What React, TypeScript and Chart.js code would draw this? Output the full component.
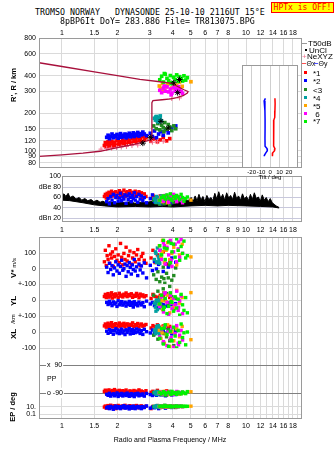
import React, { useEffect, useRef } from 'react';
import { Chart, registerables } from 'chart.js';

Chart.register(...registerables);

const SANS = "'Liberation Sans', Arial, sans-serif";
const MONO = "'DejaVu Sans Mono', 'Liberation Mono', monospace";

// ---------------- text ----------------
const TITLE_1 = 'TROMSO NORWAY   DYNASONDE 25-10-10 2116UT 15°E';
const TITLE_2 = '8pBP6It DoY= 283.886 File= TR813075.BPG';
const HPTX = 'HPTx is OFF!';
const X_TITLE = 'Radio and Plasma Frequency / MHz';

// ---------------- axes ----------------
const FREQ_MIN = 0.75;
const FREQ_MAX = 20.15;
const FREQ_TICKS_TOP = [1, 1.5, 2, 3, 4, 5, 6, 7, 8, 10, 12, 14, 16, 18];
const FREQ_TICKS_MID = [1, 1.5, 2, 3, 4, 5, 6, 7, 8, 9, 10, 12, 14, 16, 18];
const FREQ_GRID_LOW = [1, 1.5, 2, 3, 4, 5, 6, 7, 8, 9, 10, 11, 12, 13, 14, 15, 16, 17, 18, 19];
const FREQ_LABELS_LOW = [1, 1.5, 2, 3, 4, 5, 6, 7, 8, 10, 12, 14, 16, 18];
const HEIGHT_MIN = 72.7;
const HEIGHT_MAX = 800;
const HEIGHT_TICKS = [80, 90, 100, 120, 150, 200, 300, 400, 600, 800];
const DB_MIN = 13.3;
const DB_MAX = 101;
const DB_TICKS = [20, 40, 60, 80, 100];
const DB_LABELS = ['dBn 20', '40', '60', 'dBe 80', '100'];
const TILT_MIN = -30.4;
const TILT_MAX = 29.8;
const TILT_TICKS = [-20, -10, 0, 10, 20];
const INSET_H_MIN = 79.4;
const INSET_H_MAX = 495;
const V_TICKS = [-100, 0, 100];
const V_LABELS = ['+-100', '0', '100'];
const YL_LABELS = ['+-100', '0', ''];
const XL_LABELS = ['-100', '0', ''];
const PP_TICKS = [-90, 0, 90];
const PP_LABELS = ['o -90', 'PP', 'x  90'];
const EP_TICKS = [0.1, 10];
const EP_LABELS = ['0.1', '10.'];

// ---------------- profile & markers ----------------
const PROFILE_FREQ = [0.75, 1.0, 1.3, 1.61, 2.0, 2.5, 3.0, 3.08, 3.08, 3.12, 3.5, 3.9, 4.2, 4.55, 4.8, 4.84, 4.6, 4.2, 3.96, 3.41, 2.65, 2.0, 1.5, 1.0, 0.75];
const PROFILE_RANGE = [90, 92.5, 95.5, 99, 106, 113, 121.6, 123, 243, 252, 256, 260, 266, 276, 290, 298, 308, 330, 347, 357, 373, 400, 429, 473, 507];
const NEXYZ_FREQ = [1.63, 1.75, 1.86, 1.98, 2.1, 2.24, 2.4, 2.58, 3.1, 3.3, 3.55, 3.95, 4.35];
const NEXYZ_RANGE = [103, 104, 105, 106, 107, 108, 110, 111, 117, 118, 119, 262, 265];
const MARK_FREQ = [2.75, 3.02, 3.45, 3.78, 4.05, 4.35, 4.25];
const MARK_RANGE = [115, 128, 172, 152, 350, 372, 292];

// ---------------- tilt inset ----------------
const TILT_X_RANGE = [274, 250, 220, 195, 186, 160, 135, 117, 112, 108, 104, 100, 98];
const TILT_X = [5.0, 5.2, 5.0, 4.8, 3.8, 3.7, 3.6, 3.5, 5.0, 4.6, 2.6, 2.2, 2.4];
const TILT_Y_RANGE = [274, 262, 250, 220, 190, 160, 135, 117, 112, 108, 104, 100, 98];
const TILT_Y = [-5.2, -6.6, -5.8, -5.7, -5.6, -5.6, -5.7, -5.6, -3.5, -3.2, -4.8, -6.2, -6.4];

// ---------------- noise (dB panel) ----------------
const NOISE_FREQ = [1.0, 1.025, 1.05, 1.08, 1.105, 1.15, 1.19, 1.24, 1.28, 1.33, 1.38, 1.44, 1.49, 1.55, 1.61, 1.67, 1.73, 1.82, 1.94, 2.07, 2.2, 2.34, 2.49, 2.65, 2.83, 3.01, 3.2, 3.41, 3.63, 3.86, 4.11, 4.38, 4.66, 4.84, 5.03, 5.16, 5.29, 5.42, 5.55, 5.69, 5.83, 5.98, 6.13, 6.28, 6.44, 6.6, 6.77, 6.94, 7.11, 7.29, 7.47, 7.66, 7.85, 8.05, 8.25, 8.46, 8.67, 8.89, 9.11, 9.34, 9.57, 9.81, 10.06, 10.31, 10.57, 10.83, 11.1, 11.38, 11.67, 11.96, 12.26, 12.57, 12.88, 13.21, 13.54, 13.88, 14.23, 14.58, 15.13];
const NOISE_HIGH = [64, 67, 62, 68, 60, 63, 57, 60, 55, 58, 54, 56, 52, 55, 51, 53, 50, 52, 49, 51, 50, 52, 49, 51, 50, 52, 54, 51, 55, 52, 56, 53, 57, 54, 60, 52, 63, 54, 66, 55, 62, 52, 64, 56, 60, 54, 68, 57, 71, 58, 66, 55, 69, 59, 64, 56, 70, 58, 63, 55, 67, 57, 62, 54, 66, 56, 69, 58, 61, 53, 65, 55, 60, 52, 58, 50, 47, 44, 41];
const NOISE_LOW_FREQ = [1.0, 1.1, 1.3, 1.5, 1.7, 2.0, 2.5, 3.0, 3.5, 4.0, 5.0, 6.0, 7.0, 8.0, 10.0, 12.0, 14.0, 15.13];
const NOISE_LOW = [55, 54, 50, 46, 44, 42, 43, 42, 43, 42, 44, 45, 44, 45, 44, 43, 42, 40];

// ---------------- echo classes ----------------
const C1 = '#ff0000';
const C2 = '#0000ff';
const C3 = '#228b22';
const C4 = '#00a0a0';
const C5 = '#ffa500';
const C6 = '#ff00ff';
const C7 = '#00f000';

const S1_FREQ = [1.7, 1.72, 1.74, 1.76, 1.78, 1.8, 1.82, 1.84, 1.86, 1.88, 1.9, 1.93, 1.96, 1.99, 2.02, 2.05, 2.08, 2.11, 2.14, 2.17, 2.2, 2.23, 2.26, 2.3, 2.34, 2.38, 2.42, 2.46, 2.5, 2.54, 2.58, 2.62, 2.66, 2.7, 2.75, 2.8, 2.86, 3.05, 3.12, 3.2, 3.3, 3.42, 3.55, 3.7, 3.85];
const S1_RANGE = [110, 116, 107, 113, 118, 109, 115, 111, 119, 108, 114, 117, 110, 121, 113, 118, 111, 116, 122, 114, 119, 112, 124, 117, 121, 115, 126, 119, 123, 116, 128, 121, 125, 118, 130, 122, 127, 119, 124, 126, 118, 122, 128, 120, 125];
const S1_AMP = [62, 66, 59, 68, 64, 70, 61, 67, 72, 63, 69, 65, 71, 60, 68, 73, 64, 70, 66, 74, 62, 69, 71, 65, 73, 67, 70, 63, 72, 68, 66, 71, 64, 69, 60, 67, 62, 58, 64, 61, 57, 63, 59, 62, 56];
const S1_VSTAR = [45, 120, 20, 85, 60, 150, 35, 95, 70, 110, 15, 80, 130, 55, 90, 40, 165, 75, 25, 100, 60, 140, 50, 85, 115, 30, 70, 105, 45, 90, 125, 60, 20, 80, 100, 55, 35, 70, 120, 40, 90, 65, 110, 30, 50];
const S1_YL = [22, 35, 15, 28, 40, 18, 30, 25, 45, 12, 33, 20, 38, 27, 16, 42, 24, 31, 19, 36, 28, 44, 21, 34, 26, 39, 17, 30, 23, 41, 29, 14, 37, 25, 32, 20, 27, 10, 35, 22, 18, 30, 25, 40, 15];
const S1_XL = [38, 50, 30, 44, 55, 35, 47, 41, 58, 32, 46, 39, 52, 28, 43, 56, 36, 49, 40, 54, 33, 45, 51, 37, 48, 42, 57, 34, 46, 39, 53, 31, 44, 50, 36, 42, 47, 25, 40, 33, 45, 30, 38, 28, 35];
const S1_PP = [-80, -72, -88, -76, -84, -70, -92, -78, -86, -74, -82, -68, -90, -77, -85, -73, -81, -95, -75, -87, -79, -71, -89, -83, -76, -93, -80, -74, -86, -78, -84, -70, -91, -77, -82, -88, -75, -85, -79, -90, -73, -87, -81, -76, -84];
const S1_EP = [8, 15, 4, 12, 20, 6, 10, 25, 5, 14, 9, 18, 3, 11, 22, 7, 13, 5, 16, 9, 24, 6, 12, 8, 19, 4, 11, 15, 7, 21, 10, 5, 13, 17, 6, 9, 14, 3, 12, 8, 20, 6, 10, 15, 7];

const S2_FREQ = [1.75, 1.78, 1.81, 1.84, 1.87, 1.9, 1.93, 1.96, 1.99, 2.02, 2.05, 2.08, 2.11, 2.14, 2.17, 2.2, 2.23, 2.26, 2.29, 2.32, 2.35, 2.38, 2.41, 2.44, 2.47, 2.5, 2.54, 2.58, 2.62, 2.66, 2.7, 2.75, 2.8, 2.88, 3.02, 3.1, 3.18, 3.26, 3.35, 3.45, 3.55, 3.65, 3.78, 3.95, 4.15];
const S2_RANGE = [128, 133, 125, 130, 136, 127, 132, 129, 135, 126, 131, 137, 128, 133, 130, 136, 127, 134, 131, 138, 129, 135, 132, 139, 130, 136, 133, 140, 131, 137, 134, 141, 136, 132, 138, 130, 144, 127, 136, 142, 133, 147, 139, 152, 158];
const S2_AMP = [52, 58, 48, 62, 55, 66, 50, 60, 64, 53, 59, 68, 54, 61, 57, 65, 49, 63, 56, 67, 60, 52, 64, 58, 69, 55, 62, 51, 66, 57, 63, 54, 60, 50, 58, 65, 52, 61, 56, 48, 59, 53, 62, 50, 55];
const S2_VSTAR = [10, -25, 35, -5, 20, -40, 5, 45, -15, 25, -30, 15, 55, -10, 0, 30, -50, 20, -20, 40, 8, -35, 25, -5, 60, -15, 12, -45, 30, -8, 18, -28, 38, -60, 22, -12, 48, -2, 28, 65, -18, 35, 10, 70, 42];
const S2_YL = [-15, -28, -8, -22, -35, -12, -25, -18, -40, -5, -30, -20, -10, -32, -24, -14, -38, -19, -27, -9, -33, -16, -26, -44, -11, -29, -21, -36, -13, -23, -31, -17, -42, -7, -25, -15, -35, -20, -48, -10, -28, -38, -18, -30, -22];
const S2_XL = [5, -8, 15, -2, 10, -14, 8, 20, -5, 12, -10, 3, 18, -6, 7, -16, 14, -3, 9, 22, -12, 6, 16, -8, 11, -4, 19, 0, 13, -9, 8, -15, 17, 2, -6, 12, -11, 5, 24, -2, 10, -7, 15, -12, 4];
const S2_PP = [-98, -105, -92, -110, -100, -95, -108, -102, -90, -112, -97, -104, -93, -109, -101, -96, -106, -91, -103, -111, -99, -94, -107, -100, -113, -95, -102, -92, -108, -98, -104, -96, -110, -93, -100, -106, -97, -105, -91, -102, -99, -108, -94, -103, -100];
const S2_EP = [5, 9, 3, 12, 6, 2, 8, 15, 4, 10, 6, 3, 11, 7, 18, 4, 9, 5, 13, 2.5, 7, 10, 4, 14, 6, 3, 8, 12, 5, 9, 3, 11, 6, 16, 4, 8, 5, 10, 3, 7, 9, 4, 12, 6, 8];

const S3_FREQ = [3.15, 3.25, 3.32, 3.4, 3.48, 3.55, 3.62, 3.7, 3.78, 3.85, 3.95, 4.05, 4.15, 3.58];
const S3_RANGE = [158, 150, 165, 147, 160, 153, 168, 149, 162, 155, 145, 158, 150, 142];
const S3_AMP = [55, 50, 58, 47, 53, 60, 49, 56, 52, 46, 57, 51, 54, 48];
const S3_VSTAR = [-40, -70, -20, -85, -55, 10, -95, -30, -60, 25, -75, -45, 5, -65];
const S3_YL = [30, -10, 55, 15, -40, 70, 0, 40, -25, 85, 20, -60, 10, 45];
const S3_XL = [-20, 10, -45, 25, -5, -70, 35, -30, 15, -55, 5, -85, 20, -10];
const S3_PP = [-88, -95, -82, -100, -90, -97, -85, -104, -92, -80, -99, -87, -94, -102];
const S3_EP = [12, 8, 20, 6, 15, 10, 25, 7, 14, 9, 18, 11, 6, 16];

const S4_FREQ = [3.18, 3.22, 3.26, 3.3, 3.34, 3.38, 3.42, 3.46, 3.28, 3.36, 3.24, 3.4];
const S4_RANGE = [182, 176, 188, 172, 185, 178, 190, 174, 180, 170, 186, 183];
const S4_AMP = [58, 52, 62, 55, 60, 50, 57, 63, 54, 59, 51, 56];
const S4_VSTAR = [60, 110, 40, 135, 80, 55, 120, 95, 45, 70, 100, 35];
const S4_YL = [-20, -45, 0, -60, -10, -35, 8, -50, -25, -5, -70, -15];
const S4_XL = [10, -10, 30, 0, 40, -15, 20, 5, 35, -5, 15, 25];
const S4_PP = [-85, -92, -80, -98, -88, -95, -83, -90, -100, -86, -93, -81];
const S4_EP = [10, 14, 8, 18, 12, 9, 16, 11, 20, 13, 7, 15];

const S5_FREQ = [3.38, 3.45, 3.52, 3.6, 3.68, 3.75, 3.85, 3.95, 4.05, 4.2, 4.35, 4.5, 3.5, 5.02];
const S5_RANGE = [330, 315, 345, 305, 325, 338, 350, 318, 342, 335, 355, 328, 300, 357];
const S5_AMP = [55, 60, 52, 63, 58, 50, 62, 56, 59, 53, 61, 57, 54, 55];
const S5_VSTAR = [150, 80, 185, 40, 120, 170, 60, 100, 140, 25, 90, 160, 110, 77];
const S5_YL = [-30, 20, -60, 45, -10, 30, -80, 5, -45, 60, -20, 15, -5, 46];
const S5_XL = [10, -40, 30, -70, -15, 45, -90, 0, -55, 20, -30, 35, -5, -48];
const S5_PP = [-90, -84, -96, -80, -92, -86, -100, -88, -94, -82, -98, -90, -85, -82];
const S5_EP = [12, 9, 15, 11, 8, 14, 10, 13, 16, 9, 12, 11, 10, 14];

const S6_FREQ = [3.4, 3.48, 3.56, 3.64, 3.72, 3.8, 3.88, 3.96, 4.04, 4.12, 4.2, 4.28, 4.36, 4.44, 4.52, 3.6, 3.92, 4.3];
const S6_RANGE = [305, 292, 318, 300, 325, 296, 312, 290, 322, 302, 315, 294, 308, 298, 288, 330, 280, 326];
const S6_AMP = [56, 60, 53, 64, 58, 51, 62, 55, 66, 57, 52, 61, 59, 54, 50, 63, 57, 60];
const S6_VSTAR = [120, 60, 170, 30, 140, 90, 185, 15, 110, 160, 45, 130, 75, 190, 100, 150, 55, 175];
const S6_YL = [-40, 20, -75, 45, -15, -90, 30, -55, 10, -30, 55, -65, -5, 25, -85, 40, -20, -45];
const S6_XL = [-30, 15, -60, 35, -85, 0, -45, 25, -95, -10, 40, -70, -20, 10, -50, 30, -35, -80];
const S6_PP = [-92, -86, -98, -82, -95, -88, -84, -100, -90, -96, -80, -94, -87, -91, -85, -97, -83, -89];
const S6_EP = [11, 14, 9, 16, 12, 10, 13, 8, 15, 11, 17, 9, 12, 14, 10, 13, 11, 15];

const S7_FREQ = [3.4, 3.48, 3.56, 3.64, 3.72, 3.8, 3.88, 3.96, 4.04, 4.12, 4.2, 4.28, 4.36, 4.44, 4.52, 4.6, 4.7, 3.6, 3.92, 4.8];
const S7_RANGE = [370, 395, 355, 410, 380, 365, 400, 350, 388, 372, 405, 360, 392, 378, 362, 398, 368, 415, 345, 385];
const S7_AMP = [55, 60, 63, 57, 65, 59, 67, 54, 62, 58, 64, 61, 56, 66, 60, 53, 58, 62, 57, 61];
const S7_VSTAR = [150, 90, 185, 60, 130, 175, 40, 110, 160, 75, 195, 120, 55, 145, 100, 180, 70, 135, 165, 85];
const S7_YL = [-25, 30, -60, 10, -85, -40, 45, -15, -70, 20, -50, 5, -95, 35, -30, -65, 15, -45, -10, -80];
const S7_XL = [-40, 20, -75, 45, -15, -90, 5, -55, 30, -25, -100, 10, -65, 50, -35, -5, -80, 25, -50, 0];
const S7_PP = [-88, -95, -82, -100, -90, -85, -97, -80, -93, -87, -99, -84, -91, -96, -83, -89, -94, -86, -98, -81];
const S7_EP = [12, 15, 10, 18, 13, 11, 16, 9, 14, 12, 17, 10, 13, 15, 11, 14, 12, 16, 10, 13];

const LEGEND_NAMES = ['*1', '*2', '<3', '*4', '*5', ' 6', '*7'];
const LEGEND_COLORS = [C1, C2, C3, C4, C5, C6, C7];

// table built from the named arrays (drawing order: first = on top)
const SERIES = [
  { color: C7, f: S7_FREQ, h: S7_RANGE, a: S7_AMP, v: S7_VSTAR, yl: S7_YL, xl: S7_XL, pp: S7_PP, ep: S7_EP },
  { color: C6, f: S6_FREQ, h: S6_RANGE, a: S6_AMP, v: S6_VSTAR, yl: S6_YL, xl: S6_XL, pp: S6_PP, ep: S6_EP },
  { color: C5, f: S5_FREQ, h: S5_RANGE, a: S5_AMP, v: S5_VSTAR, yl: S5_YL, xl: S5_XL, pp: S5_PP, ep: S5_EP },
  { color: C4, f: S4_FREQ, h: S4_RANGE, a: S4_AMP, v: S4_VSTAR, yl: S4_YL, xl: S4_XL, pp: S4_PP, ep: S4_EP },
  { color: C3, f: S3_FREQ, h: S3_RANGE, a: S3_AMP, v: S3_VSTAR, yl: S3_YL, xl: S3_XL, pp: S3_PP, ep: S3_EP },
  { color: C2, f: S2_FREQ, h: S2_RANGE, a: S2_AMP, v: S2_VSTAR, yl: S2_YL, xl: S2_XL, pp: S2_PP, ep: S2_EP },
  { color: C1, f: S1_FREQ, h: S1_RANGE, a: S1_AMP, v: S1_VSTAR, yl: S1_YL, xl: S1_XL, pp: S1_PP, ep: S1_EP },
];

// ---------------- helpers ----------------
const GRID = '#dadada';
const FRAME = '#9a9a9a';
const PROFILE_COLOR = '#a8103c';
const PINK = '#f2708f';
const tickFont = { family: SANS, size: 7 };

const pts = (xs: number[], ys: number[]) => xs.map((x, i) => ({ x, y: ys[i] }));
const setTicks = (vals: number[]) => (s: any) => {
  s.ticks = vals.map((value) => ({ value }));
};
const fixWidth = (w: number) => (s: any) => {
  s.width = w;
  s.paddingTop = 0; s.paddingBottom = 0; s.paddingLeft = 0; s.paddingRight = 0;
};
const fixHeight = (h: number) => (s: any) => {
  s.height = h;
  s.paddingTop = 0; s.paddingBottom = 0; s.paddingLeft = 0; s.paddingRight = 0;
};
const labelMap = (vals: number[], labels: string[]) => (v: any) => {
  const i = vals.indexOf(Number(v));
  return i >= 0 ? labels[i] : '';
};

const framePlugin = (color: string) => ({
  id: 'frame',
  afterDatasetsDraw(chart: any) {
    const { ctx, chartArea: a } = chart;
    ctx.save();
    ctx.strokeStyle = color;
    ctx.lineWidth = 1;
    ctx.strokeRect(Math.round(a.left) + 0.5, Math.round(a.top) + 0.5, Math.round(a.right - a.left) - 1, Math.round(a.bottom - a.top) - 1);
    ctx.restore();
  },
});
const whiteArea = {
  id: 'whiteArea',
  beforeDraw(chart: any) {
    const { ctx, chartArea: a } = chart;
    ctx.save();
    ctx.fillStyle = '#fff';
    ctx.fillRect(a.left, a.top, a.right - a.left, a.bottom - a.top);
    ctx.restore();
  },
};

const baseOptions = (extra: any) => ({
  animation: false,
  responsive: false,
  devicePixelRatio: 1,
  events: [],
  plugins: { legend: { display: false }, tooltip: { enabled: false } },
  ...extra,
});

const dots = (data: any[], color: string, extra: any = {}) => ({
  data,
  pointStyle: 'rect',
  pointRadius: 2.4,
  borderWidth: 0,
  backgroundColor: color,
  borderColor: color,
  ...extra,
});

const freqAxis = (min: number, position: string, ticks: number[], labels: number[], height: number, padding: number) => ({
  type: 'logarithmic',
  position,
  min,
  max: FREQ_MAX,
  afterBuildTicks: setTicks(ticks),
  afterFit: fixHeight(height),
  ticks: {
    autoSkip: false, maxRotation: 0, minRotation: 0, padding, font: tickFont, color: '#000',
    callback: (v: any) => (labels.includes(Number(v)) ? String(v) : ''),
  },
  grid: { color: GRID, drawTicks: false },
  border: { display: false },
});

// ---------------- chart configs ----------------
function rangeConfig() {
  return {
    type: 'scatter',
    data: {
      datasets: [
        { data: pts(MARK_FREQ, MARK_RANGE), pointStyle: 'star', pointRadius: 3, borderColor: '#000', backgroundColor: '#000', borderWidth: 1 },
        { type: 'line', data: pts(PROFILE_FREQ, PROFILE_RANGE), borderColor: PROFILE_COLOR, borderWidth: 1.3, pointRadius: 0, fill: false, tension: 0 },
        { data: pts(NEXYZ_FREQ, NEXYZ_RANGE), pointStyle: 'cross', pointRadius: 2.5, borderColor: PINK, backgroundColor: PINK, borderWidth: 1 },
        ...SERIES.map((s) => dots(pts(s.f, s.h), s.color, { pointRadius: 2.6 })),
      ],
    },
    options: baseOptions({
      layout: { padding: { top: 0, right: 33, bottom: 0, left: 0 } },
      scales: {
        x: freqAxis(FREQ_MIN, 'top', FREQ_TICKS_TOP, FREQ_TICKS_TOP, 13, 1),
        y: {
          type: 'logarithmic',
          min: HEIGHT_MIN,
          max: HEIGHT_MAX,
          afterBuildTicks: setTicks(HEIGHT_TICKS),
          afterFit: fixWidth(39),
          ticks: { padding: 3, font: tickFont, color: '#000', autoSkip: false, callback: (v: any) => String(v) },
          grid: { color: GRID, drawTicks: false },
          border: { display: false },
        },
      },
    }),
    plugins: [framePlugin(FRAME)],
  };
}

function tiltConfig() {
  return {
    type: 'scatter',
    data: {
      datasets: [
        { type: 'line', data: pts(TILT_X, TILT_X_RANGE), borderColor: '#ff0000', borderWidth: 1.5, pointRadius: 0, fill: false, tension: 0 },
        { type: 'line', data: pts(TILT_Y, TILT_Y_RANGE), borderColor: '#0000ff', borderWidth: 1.5, pointRadius: 0, fill: false, tension: 0 },
      ],
    },
    options: baseOptions({
      layout: { padding: { top: 0, right: 4, bottom: 0, left: 4 } },
      scales: {
        x: {
          type: 'linear', min: TILT_MIN, max: TILT_MAX,
          afterBuildTicks: setTicks(TILT_TICKS),
          afterFit: fixHeight(12),
          ticks: { autoSkip: false, maxRotation: 0, padding: 1, font: { family: SANS, size: 6 }, color: '#000', callback: (v: any) => String(v) },
          grid: { color: '#cfcfcf', drawTicks: false },
          border: { display: false },
        },
        y: { type: 'logarithmic', display: false, min: INSET_H_MIN, max: INSET_H_MAX },
      },
    }),
    plugins: [whiteArea, framePlugin(FRAME)],
  };
}

function dbConfig() {
  return {
    type: 'scatter',
    data: {
      datasets: [
        ...SERIES.map((s) => dots(pts(s.f, s.a), s.color)),
        { type: 'line', data: pts(NOISE_FREQ, NOISE_HIGH), borderColor: '#000', backgroundColor: '#000', borderWidth: 1, pointRadius: 0, fill: '+1', tension: 0 },
        { type: 'line', data: pts(NOISE_LOW_FREQ, NOISE_LOW), borderColor: '#000', backgroundColor: '#000', borderWidth: 1, pointRadius: 0, fill: false, tension: 0 },
      ],
    },
    options: baseOptions({
      layout: { padding: { top: 6, right: 33, bottom: 0, left: 0 } },
      scales: {
        x: freqAxis(1.0, 'bottom', FREQ_TICKS_MID, FREQ_TICKS_MID, 18, 4),
        y: {
          type: 'linear', min: DB_MIN, max: DB_MAX,
          afterBuildTicks: setTicks(DB_TICKS),
          afterFit: fixWidth(62),
          ticks: { padding: 1, font: tickFont, color: '#000', autoSkip: false, callback: labelMap(DB_TICKS, DB_LABELS) },
          grid: { color: '#c8c8dc', drawTicks: false },
          border: { display: false },
        },
      },
    }),
    plugins: [framePlugin(FRAME)],
  };
}

const stackAxis = (type: string, weight: number, min: number, max: number, ticks: number[], labels: string[], extra: any = {}) => ({
  type,
  position: 'left',
  stack: 'low',
  stackWeight: weight,
  min,
  max,
  afterBuildTicks: setTicks(ticks),
  afterFit: fixWidth(39),
  ticks: { padding: 3, font: tickFont, color: '#000', autoSkip: false, callback: labelMap(ticks, labels), ...(extra.ticks || {}) },
  grid: { color: GRID, drawTicks: false, ...(extra.grid || {}) },
  border: { display: false },
});

function lowConfig() {
  const bands: [string, string][] = [['v', 'yV'], ['yl', 'yYL'], ['xl', 'yXL'], ['pp', 'yPP'], ['ep', 'yEP']];
  const datasets: any[] = [];
  SERIES.forEach((s: any) => {
    bands.forEach(([key, axis]) => {
      datasets.push(dots(pts(s.f, s[key]), s.color, { yAxisID: axis }));
    });
  });
  return {
    type: 'scatter',
    data: { datasets },
    options: baseOptions({
      layout: { padding: { top: 7, right: 33, bottom: 0, left: 0 } },
      scales: {
        x: freqAxis(FREQ_MIN, 'bottom', FREQ_GRID_LOW, FREQ_LABELS_LOW, 32, 3),
        yEP: stackAxis('logarithmic', 19, 0.0043, 686, EP_TICKS, EP_LABELS),
        yPP: stackAxis('linear', 52, -135, 199.3, PP_TICKS, PP_LABELS, {
          ticks: { mirror: true, padding: 8, showLabelBackdrop: true, backdropColor: '#fff', backdropPadding: 1 },
          grid: { color: (c: any) => (c.tick && c.tick.value === 0 ? 'rgba(0,0,0,0)' : '#808080') },
        }),
        yXL: stackAxis('linear', 32, -100, 100, V_TICKS, XL_LABELS),
        yYL: stackAxis('linear', 32, -100, 100, V_TICKS, YL_LABELS),
        yV: stackAxis('linear', 47, -100, 207, V_TICKS, V_LABELS),
      },
    }),
    plugins: [framePlugin(FRAME)],
  };
}

// ---------------- components ----------------
function ChartBox({ left, top, width, height, make }: { left: number; top: number; width: number; height: number; make: () => any }) {
  const ref = useRef<HTMLCanvasElement>(null);
  useEffect(() => {
    const chart = new Chart(ref.current as HTMLCanvasElement, make());
    return () => chart.destroy();
  }, []);
  return <canvas ref={ref} width={width} height={height} style={{ position: 'absolute', left, top, width, height }} />;
}

const abs = (s: React.CSSProperties): React.CSSProperties => ({ position: 'absolute', whiteSpace: 'pre', lineHeight: 1, ...s });
const center = (x: number, y: number, s: React.CSSProperties = {}): React.CSSProperties =>
  abs({ left: x, top: y, transform: 'translate(-50%, -50%)', ...s });
const leftMid = (x: number, y: number, s: React.CSSProperties = {}): React.CSSProperties =>
  abs({ left: x, top: y, transform: 'translate(0, -50%)', ...s });
const vert = (x: number, y: number, s: React.CSSProperties = {}): React.CSSProperties =>
  abs({ left: x, top: y, transform: 'translate(-50%, -50%) rotate(-90deg)', ...s });

const LEGEND_Y = [72.7, 80.7, 89.5, 97.7, 105.7, 113.5, 121];

export default function App() {
  useEffect(() => {
    document.body.style.margin = '0';
  }, []);
  return (
    <div style={{ position: 'relative', width: 335, height: 451, background: '#fff', overflow: 'hidden', fontFamily: SANS, color: '#000' }}>
      <ChartBox left={0} top={25} width={335} height={148} make={rangeConfig} />
      <ChartBox left={0} top={170} width={335} height={70} make={dbConfig} />
      <ChartBox left={0} top={230} width={335} height={221} make={lowConfig} />
      <ChartBox left={238} top={65} width={64} height={115} make={tiltConfig} />

      <div style={leftMid(35, 12, { font: `8.3px ${MONO}` })}>{TITLE_1}</div>
      <div style={leftMid(60, 20.5, { font: `8.3px ${MONO}` })}>{TITLE_2}</div>
      <div style={abs({ left: 271, top: 2, width: 63, height: 11, boxSizing: 'border-box', background: '#ffff00', border: '1px solid #ff0000', color: '#ff0000', font: `8px ${MONO}`, textAlign: 'center', lineHeight: '9px' })}>{HPTX}</div>

      <div style={vert(13, 85, { font: `bold 7.5px ${SANS}` })}>R', R / km</div>
      <div style={vert(13, 268, { font: `bold 8px ${SANS}` })}>V*<span style={{ font: `6px ${SANS}` }}> m/s</span></div>
      <div style={vert(13, 301, { font: `bold 8px ${SANS}` })}>YL</div>
      <div style={vert(13, 318.5, { font: `6px ${SANS}` })}>/km</div>
      <div style={vert(13, 334, { font: `bold 8px ${SANS}` })}>XL</div>
      <div style={vert(12, 407, { font: `bold 7.5px ${SANS}` })}>EP / deg</div>
      <div style={center(170, 439, { font: `7px ${SANS}` })}>{X_TITLE}</div>
      <div style={center(270, 176.5, { font: `6px ${SANS}` })}>Tilt / deg</div>

      <div style={abs({ left: 302, top: 42.5, width: 5, height: 1, background: '#9a9a9a' })} />
      <div style={leftMid(308, 43, { font: `8px ${SANS}` })}>T50dB</div>
      <div style={abs({ left: 305, top: 49, width: 1.5, height: 1.5, background: '#000' })} />
      <div style={leftMid(309, 49.5, { font: `8px ${SANS}` })}>UnCl</div>
      <div style={leftMid(302, 55.5, { font: `8px ${SANS}`, color: PINK })}>+</div>
      <div style={leftMid(307, 56, { font: `8px ${SANS}` })}>NeXYZ</div>
      <div style={abs({ left: 302, top: 63, width: 4, height: 1, background: '#ff5050' })} />
      <div style={leftMid(306.5, 63, { font: `7px ${SANS}` })}>Θx</div>
      <div style={abs({ left: 314, top: 63, width: 4, height: 1, background: '#5050ff' })} />
      <div style={leftMid(318.5, 63, { font: `7px ${SANS}` })}>Θy</div>
      {LEGEND_NAMES.map((name, i) => (
        <React.Fragment key={name}>
          <div style={abs({ left: 304, top: LEGEND_Y[i] - 1.5, width: 3, height: 3, background: LEGEND_COLORS[i] })} />
          <div style={leftMid(313, LEGEND_Y[i], { font: `8px ${SANS}` })}>{name}</div>
        </React.Fragment>
      ))}
    </div>
  );
}
